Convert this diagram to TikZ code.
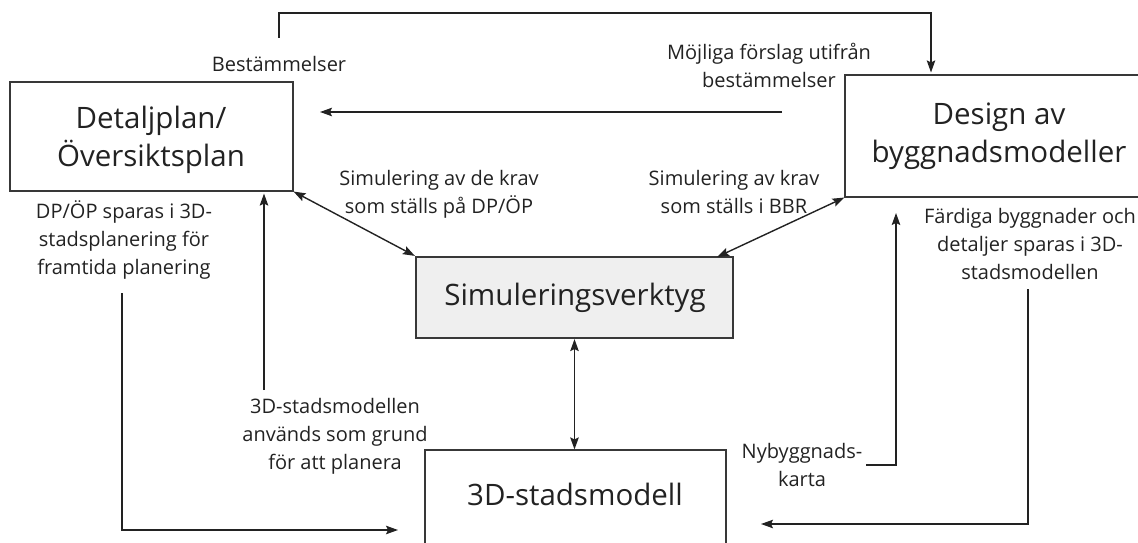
\documentclass[tikz,border=0pt]{standalone}
\usepackage{fontspec}
\setmainfont{Open Sans}
\usetikzlibrary{arrows.meta}
\definecolor{ink}{HTML}{222222}
\definecolor{simfill}{HTML}{EFEFEF}
\begin{document}
\begin{tikzpicture}[x=1pt,y=-1pt,
  box/.style={draw=ink!90, line width=1.1pt, inner sep=0pt},
  boxtext/.style={inner sep=0pt, align=center, text=ink, font=\fontsize{29.5}{38}\selectfont},
  lbl/.style={align=center, inner sep=0pt, text=ink, font=\fontsize{20}{28}\selectfont},
  arr/.style={line width=1.4pt, draw=ink, -{Stealth[length=12pt,width=8.5pt,inset=2pt]}},
  darr/.style={line width=1.4pt, draw=ink, {Stealth[length=12pt,width=8.5pt,inset=2pt]}-{Stealth[length=12pt,width=8.5pt,inset=2pt]}}]
\useasboundingbox (0,0) rectangle (1138,543);
\clip (0,0) rectangle (1138,543);

% boxes
\node[box, minimum width=283, minimum height=109] (detalj) at (151.5,136.5) {};
\node[box, minimum width=308, minimum height=122] (design) at (999,136) {};
\node[box, fill=simfill, line width=2.2pt, minimum width=317, minimum height=81] (sim) at (574.5,297.5) {};
\node[box, minimum width=301, minimum height=110] (stad) at (575.5,505) {};

% box texts
\node[boxtext] (detaljtxt) at (151,139.4) {\strut Detaljplan/\\Översiktsplan\strut};
\node[boxtext] (designtxt) at (999,135.4) {\strut Design av\\byggnadsmodeller\strut};
\node[boxtext] (simtxt) at (575,297.4) {\strut Simuleringsverktyg};
\node[boxtext] (stadtxt) at (575,497.4) {\strut 3D-stadsmodell};

% labels
\node[lbl] (bestlbl) at (279,66.4) {\strut Bestämmelser};
\node[lbl] (mojlbl) at (769,67.9) {\strut Möjliga förslag utifrån\\bestämmelser\strut};
\node[lbl] (simlbl1) at (439,193.4) {\strut Simulering av de krav\\som ställs på DP/ÖP\strut};
\node[lbl] (simlbl2) at (734,193.4) {\strut Simulering av krav\\som ställs i BBR\strut};
\node[lbl] (dplbl) at (124,240.9) {\strut DP/ÖP sparas i 3D-\\stadsplanering för\\framtida planering\strut};
\node[lbl] (fardlbl) at (1030,245.9) {\strut Färdiga byggnader och\\detaljer sparas i 3D-\\stadsmodellen\strut};
\node[lbl] (grundlbl) at (335,435.9) {\strut 3D-stadsmodellen\\används som grund\\för att planera\strut};
\node[lbl] (nylbl) at (802,466.4) {\strut Nybyggnads-\\karta\strut};

% connectors
\coordinate (tstart) at (279,38);
\coordinate (tcorner) at (931,13);
\draw[arr, shorten >=2pt] (tstart) |- (tcorner) -- (tcorner |- design.north);

\coordinate (hstart) at (782,112);
\coordinate (hend) at (320,112);
\draw[arr] (hstart) -- (hend);

\draw[darr] (detalj.south east) -- (sim.north west);
\coordinate (simtr) at (717,257);
\draw[darr] (design.south west) -- (simtr);

\coordinate (gstart) at (264,390);
\draw[arr, shorten >=2pt] (gstart) -- (gstart |- detalj.south);

\coordinate (dpstart) at (122,293);
\coordinate (dpend) at (398,530);
\draw[arr] (dpstart) |- (dpend);

\draw[darr] (sim.south) -- (sim.south |- stad.north);

\coordinate (nystart) at (866,465);
\coordinate (nyend) at (896,213);
\draw[arr] (nystart) -| (nyend);

\coordinate (fstart) at (1028,289);
\coordinate (fend) at (761,524);
\draw[arr] (fstart) |- (fend);
\end{tikzpicture}
\end{document}
